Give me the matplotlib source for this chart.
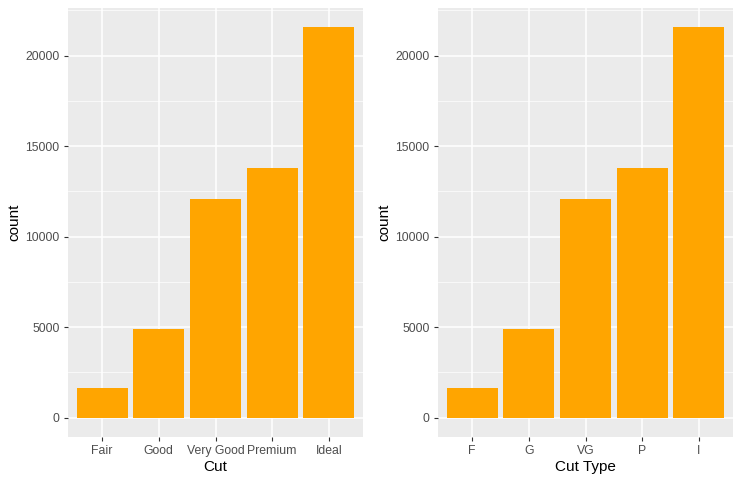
import numpy as np
import matplotlib
matplotlib.use("Agg")
import matplotlib.pyplot as plt
from matplotlib.ticker import MultipleLocator

plt.rcParams["font.family"] = ["Liberation Sans", "DejaVu Sans"]

cuts = ["Fair", "Good", "Very Good", "Premium", "Ideal"]
cut_short = ["F", "G", "VG", "P", "I"]
counts = [1610, 4906, 12082, 13791, 21551]

fig = plt.figure(figsize=(7.4, 4.82), dpi=100)
W, H = 740, 482

# panel boxes in pixels: left, top, right, bottom
panels = [(68, 8, 363, 437, cuts, "Cut"),
          (438, 8, 733, 437, cut_short, "Cut Type")]

for (l, t, r, b, labels, xlab) in panels:
    ax = fig.add_axes([l / W, 1 - b / H, (r - l) / W, (b - t) / H])
    ax.set_facecolor("#EBEBEB")
    x = np.arange(1, len(counts) + 1)
    ax.bar(x, counts, width=0.9, color="#FFA500", zorder=3)
    ax.set_xlim(0.4, len(counts) + 0.6)
    top = max(counts)
    ax.set_ylim(-0.05 * top, 1.05 * top)
    ax.set_xticks(x)
    ax.set_xticklabels(labels)
    ax.yaxis.set_major_locator(MultipleLocator(5000))
    ax.yaxis.set_minor_locator(MultipleLocator(2500))
    ax.grid(which="major", color="white", linewidth=1.1, zorder=0)
    ax.grid(which="minor", axis="y", color="white", linewidth=0.5, zorder=0)
    ax.set_axisbelow(True)
    for s in ax.spines.values():
        s.set_visible(False)
    ax.tick_params(which="major", length=3, width=0.8, color="#333333",
                   labelsize=8.8, labelcolor="#4D4D4D", pad=3)
    ax.tick_params(which="minor", length=0)
    ax.set_xlabel(xlab, fontsize=11, color="black", labelpad=2)
    ax.set_ylabel("count", fontsize=11, color="black", labelpad=3)

fig.savefig("out.png", dpi=100)
